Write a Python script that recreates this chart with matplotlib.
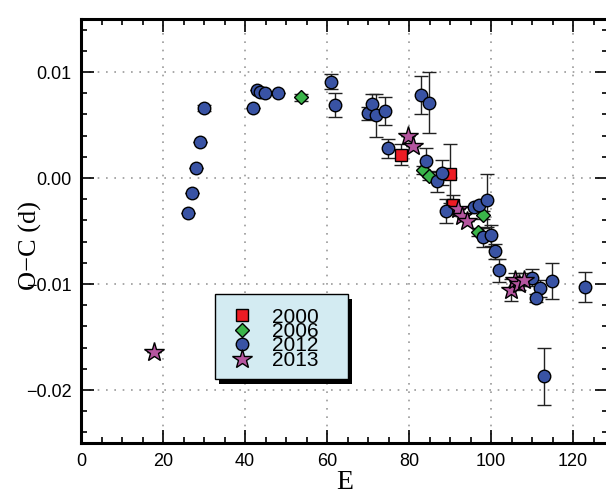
import matplotlib.pyplot as plt
from matplotlib.patches import Rectangle
from matplotlib.ticker import MultipleLocator

# O-C timings, grouped by observing season: cycle E, O-C (d), error (d)
e_2000 = [78.0, 90.0, 90.6]
oc_2000 = [0.0022, 0.0004, -0.0025]
err_2000 = [0.0010, 0.0028, 0.0009]

e_2006 = [53.7, 83.5, 84.9, 98.0, 96.8]
oc_2006 = [0.0076, 0.00075, 0.0002, -0.0035, -0.0051]
err_2006 = [0.0003, 0.0004, 0.0004, 0.0004, 0.0004]

e_2012 = [26.0, 27.0, 28.1, 28.9, 30.1, 42.0, 42.8, 43.7, 44.9, 48.0,
          61.0, 62.0, 69.9, 70.9, 72.0, 74.0, 74.9, 82.9, 84.9, 84.0,
          86.9, 88.0, 88.9, 95.9, 97.1, 98.9, 98.0, 99.9, 101.0, 102.0,
          109.9, 111.9, 111.0, 114.9, 112.9, 122.9]
oc_2012 = [-0.0033, -0.0014, 0.0009, 0.0034, 0.0066, 0.0066, 0.0083, 0.0081, 0.0080, 0.0080,
           0.0091, 0.0069, 0.0061, 0.0070, 0.0059, 0.0063, 0.0028, 0.0078, 0.0071, 0.0016,
           -0.0003, 0.0005, -0.0031, -0.0027, -0.0025, -0.0021, -0.0056, -0.0054, -0.0069, -0.0087,
           -0.0094, -0.0104, -0.0113, -0.00975, -0.0187, -0.0103]
err_2012 = [0.0, 0.0, 0.0, 0.0, 0.0003, 0.0, 0.0, 0.0, 0.0, 0.0,
            0.0007, 0.0011, 0.0006, 0.0009, 0.0020, 0.0013, 0.0009, 0.0018, 0.0029, 0.0012,
            0.0010, 0.0012, 0.0011, 0.0, 0.0, 0.0025, 0.0009, 0.0010, 0.0007, 0.0011,
            0.0008, 0.0008, 0.0004, 0.0017, 0.0027, 0.0014]

e_2013 = [17.8, 79.8, 81.0, 91.9, 92.9, 94.1, 104.9, 105.9, 106.9, 107.9]
oc_2013 = [-0.0164, 0.0040, 0.0030, -0.0029, -0.0036, -0.0041, -0.01057, -0.0096, -0.0100, -0.0096]
err_2013 = [0.0, 0.0, 0.0, 0.0, 0.0, 0.0, 0.0010, 0.0006, 0.0006, 0.0006]

yticks = [-0.02, -0.01, 0.0, 0.01]
ytick_labels = ['\u22120.02', '\u22120.01', '0.00', '0.01']

plt.rcParams['font.family'] = ['Liberation Sans', 'DejaVu Sans']

fig = plt.figure(figsize=(6.06, 4.90), dpi=100)
ax = fig.add_axes([0.1337, 0.0959, 1.004 - 0.1337, 0.9612 - 0.0959])

series = [
    (e_2000, oc_2000, err_2000, 's', '#ed1c24', 8.5, '2000'),
    (e_2006, oc_2006, err_2006, 'D', '#3ab54a', 7.5, '2006'),
    (e_2012, oc_2012, err_2012, 'o', '#3953a4', 9.0, '2012'),
    (e_2013, oc_2013, err_2013, '*', '#b5559f', 14.5, '2013'),
]

handles = []
labels = []
for e, oc, err, mk, col, ms, lab in series:
    cont = ax.errorbar(e, oc, yerr=err, fmt=mk, mfc=col, mec='black', mew=1.0, ms=ms,
                       ecolor='#222222', elinewidth=1.0, capsize=5, capthick=1.0)
    handles.append(cont[0])
    labels.append(lab)

ax.set_xlim(0, 128.6)
ax.set_ylim(-0.025, 0.015)
ax.xaxis.set_major_locator(MultipleLocator(20))
ax.xaxis.set_minor_locator(MultipleLocator(5))
ax.set_yticks(yticks)
ax.set_yticklabels(ytick_labels)
ax.yaxis.set_minor_locator(MultipleLocator(0.002))

ax.tick_params(which='both', direction='in', top=True, right=True, labelsize=13, width=1.2)
ax.tick_params(which='major', length=9.5, pad=7)
ax.tick_params(which='minor', length=4.5)
for sp in ax.spines.values():
    sp.set_linewidth(2.2)

ax.grid(True, which='major', color='#999999', linestyle=(0, (1, 4)), linewidth=1.2)
ax.set_axisbelow(True)

ax.set_xlabel('E', family='Liberation Serif', fontsize=20, labelpad=0)
ax.set_ylabel('O\u2212C (d)', family='Liberation Serif', fontsize=19)
ax.yaxis.set_label_coords(-0.074, 0.467)

# legend box with a solid drop shadow
bx, by, bw, bh = 0.2533, 0.151, 0.2534, 0.200
ax.add_patch(Rectangle((bx + 0.008, by - 0.011), bw, bh, transform=ax.transAxes,
                       facecolor='black', edgecolor='none', zorder=5))
ax.add_patch(Rectangle((bx, by), bw, bh, transform=ax.transAxes,
                       facecolor='#d3ebf2', edgecolor='black', linewidth=1.0, zorder=6))
leg = ax.legend(handles, labels, loc='center', bbox_to_anchor=(bx + bw / 2 - 0.012, by + bh / 2 - 0.005),
                frameon=False, fontsize=15, labelspacing=-0.22, handletextpad=0.9,
                handlelength=1.0, borderpad=0)
leg.set_zorder(7)

fig.savefig('out.png', dpi=100)
